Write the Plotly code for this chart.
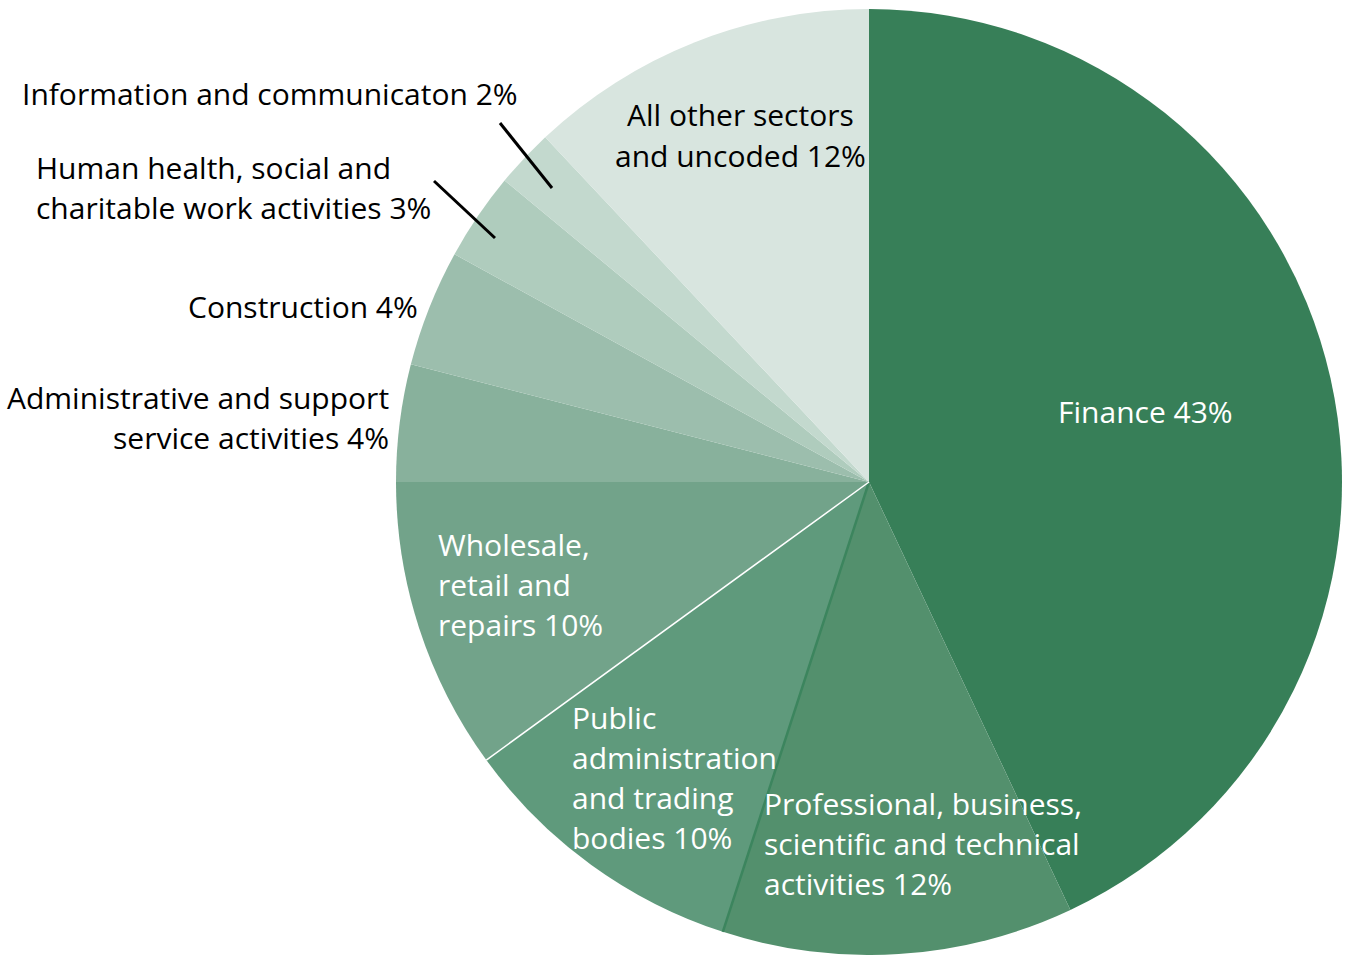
import math
import plotly.graph_objects as go

# Sector shares (percent), clockwise from 12 o'clock
sectors = [
    "Finance",
    "Professional, business,<br>scientific and technical<br>activities",
    "Public<br>administration<br>and trading<br>bodies",
    "Wholesale,<br>retail and<br>repairs",
    "Administrative and support<br>service activities",
    "Construction",
    "Human health, social and<br>charitable work activities",
    "Information and communicaton",
    "All other sectors<br>and uncoded",
]
shares = [43, 12, 10, 10, 4, 4, 3, 2, 12]
colors = ["#377F58", "#53906D", "#5F9A7C", "#72A38A", "#88B19C",
          "#9CBEAD", "#AFCCBD", "#C3D9CE", "#D8E5DF"]

W, H = 1349, 955
FONT = "Open Sans"
FS = 30
LINE_H = 40

# Pie placement (pixels)
CX, CY, R = 869, 482, 473

# Label anchors: (x, y of first line centre, anchor, text colour)
label_pos = [
    (1145, 411, "center", "white"),
    (762, 803, "left", "white"),
    (570, 717, "left", "white"),
    (436, 544, "left", "white"),
    (391, 397, "right", "black"),
    (420, 306, "right", "black"),
    (34, 167, "left", "black"),
    (20, 94, "left", "black"),
    (740, 115, "center", "black"),
]

fig = go.Figure(go.Pie(
    labels=[s.replace("<br>", " ") for s in sectors],
    values=shares,
    sort=False,
    direction="clockwise",
    rotation=0,
    marker=dict(colors=colors, line=dict(width=0)),
    textinfo="none",
    hoverinfo="label+percent",
    domain=dict(x=[(CX - R) / W, (CX + R) / W],
                y=[1 - (CY + R) / H, 1 - (CY - R) / H]),
    showlegend=False,
))

annotations = []
for name, val, (x, y, anc, col) in zip(sectors, shares, label_pos):
    lines = (name + f" {val}%").split("<br>")
    for i, ln in enumerate(lines):
        annotations.append(dict(
            text=ln, x=x / W, y=1 - (y + i * LINE_H) / H,
            xref="paper", yref="paper", xanchor=anc, yanchor="middle",
            showarrow=False, font=dict(family=FONT, size=FS, color=col),
        ))

shapes = []
# Slice boundary accents
cum = 0
boundaries = {}
for i, v in enumerate(shares):
    cum += v
    boundaries[i] = cum
for idx, col, wd in [(1, "#3C855E", 2.5), (2, "white", 1.5)]:
    ang = 2 * math.pi * boundaries[idx] / sum(shares)
    ex = CX + R * math.sin(ang)
    ey = CY - R * math.cos(ang)
    shapes.append(dict(type="line", xref="paper", yref="paper",
                       x0=CX / W, y0=1 - CY / H, x1=ex / W, y1=1 - ey / H,
                       line=dict(color=col, width=wd)))

# Leader lines for the two thin slices
for (x0, y0, x1, y1) in [(500, 123, 552, 188), (434, 181, 495, 238)]:
    shapes.append(dict(type="line", xref="paper", yref="paper",
                       x0=x0 / W, y0=1 - y0 / H, x1=x1 / W, y1=1 - y1 / H,
                       line=dict(color="black", width=3)))

fig.update_layout(
    width=W, height=H,
    margin=dict(l=0, r=0, t=0, b=0),
    paper_bgcolor="white", plot_bgcolor="white",
    annotations=annotations, shapes=shapes,
)

fig.write_html("out.html")
